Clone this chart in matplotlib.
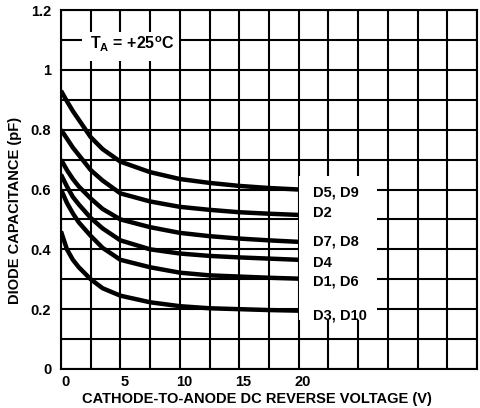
import matplotlib
matplotlib.use('Agg')
import matplotlib.pyplot as plt
import matplotlib.transforms as mtransforms
from matplotlib.patches import Rectangle
import numpy as np

plt.rcParams['font.family'] = ['Liberation Sans', 'DejaVu Sans']
plt.rcParams['font.weight'] = 'bold'
plt.rcParams['axes.labelweight'] = 'bold'
plt.rcParams['mathtext.fontset'] = 'custom'
plt.rcParams['mathtext.rm'] = 'Liberation Sans:bold'
plt.rcParams['mathtext.bf'] = 'Liberation Sans:bold'
plt.rcParams['mathtext.it'] = 'Liberation Sans:bold'

# reverse voltage (V) and capacitance (pF)
volts = [0, 0.5, 1, 1.5, 2.5, 3.5, 5, 7.5, 10, 12.5, 15, 17.5, 20]
cap_d5_d9 = [0.93, 0.895, 0.862, 0.833, 0.775, 0.735, 0.693, 0.658, 0.635, 0.622, 0.612, 0.605, 0.600]
cap_d2 = [0.80, 0.77, 0.74, 0.715, 0.665, 0.63, 0.587, 0.56, 0.542, 0.532, 0.524, 0.519, 0.515]
cap_d7_d8 = [0.70, 0.665, 0.635, 0.61, 0.57, 0.535, 0.50, 0.474, 0.455, 0.444, 0.436, 0.43, 0.425]
cap_d4 = [0.65, 0.61, 0.575, 0.55, 0.505, 0.47, 0.43, 0.40, 0.386, 0.378, 0.373, 0.369, 0.365]
cap_d1_d6 = [0.60, 0.555, 0.52, 0.49, 0.445, 0.405, 0.365, 0.34, 0.322, 0.313, 0.309, 0.305, 0.302]
cap_d3_d10 = [0.46, 0.40, 0.365, 0.34, 0.30, 0.27, 0.245, 0.223, 0.21, 0.203, 0.20, 0.197, 0.195]

curves = [cap_d5_d9, cap_d2, cap_d7_d8, cap_d4, cap_d1_d6, cap_d3_d10]
curve_names = ['D5, D9', 'D2', 'D7, D8', 'D4', 'D1, D6', 'D3, D10']
name_y = [0.59, 0.52, 0.425, 0.355, 0.293, 0.18]

fig = plt.figure(figsize=(4.8, 4.08), dpi=100)
ax = fig.add_axes([61 / 480, 39 / 408, 416 / 480, 359 / 408])

ax.set_xlim(0, 35)
ax.set_ylim(0, 1.2)

# grid every 2.5 V and 0.1 pF, labels only on some of them
xt = np.arange(0, 35.01, 2.5)
ax.set_xticks(xt)
ax.set_xticklabels(['%g' % v if v <= 20 and v % 5 == 0 else '' for v in xt])
yt = np.arange(0, 1.201, 0.1)
ax.set_yticks(yt)
ax.set_yticklabels(['%g' % round(v, 1) if round(v * 10) % 2 == 0 else '' for v in yt])
ax.tick_params(length=0, labelsize=10.5, pad=7)
ax.tick_params(axis='x', pad=4)
for lab in ax.get_xticklabels():
    lab.set_transform(lab.get_transform() + mtransforms.ScaledTranslation(3 / 72, 0, fig.dpi_scale_trans))
ax.grid(True, color='black', linewidth=1.5)
ax.set_axisbelow(True)
for sp in ax.spines.values():
    sp.set_linewidth(1.5)

# white patches behind the text, hiding the grid
ax.add_patch(Rectangle((20, 0.165), 6.6, 0.48, facecolor='white', edgecolor='none', zorder=1))
ax.add_patch(Rectangle((1.8, 1.03), 8.1, 0.098, facecolor='white', edgecolor='none', zorder=1))

for c in curves:
    ax.plot(volts, c, color='black', linewidth=3.2, solid_capstyle='butt', zorder=3)

for name, y in zip(curve_names, name_y):
    ax.text(21.2, y, name, fontsize=10.5, va='center', ha='left', zorder=4)

ax.text(6.0, 1.085, r'T$_\mathbf{A}$ = +25$^\mathbf{o}$C', fontsize=11.5, ha='center', va='center', zorder=4)

ax.set_xlabel('CATHODE-TO-ANODE DC REVERSE VOLTAGE (V)', fontsize=10.5)
ax.xaxis.set_label_coords(0.47, -0.063)
ax.set_ylabel('DIODE CAPACITANCE (pF)', fontsize=10.5)
ax.yaxis.set_label_coords(-0.094, 0.443)

fig.savefig('out.png', dpi=100)
